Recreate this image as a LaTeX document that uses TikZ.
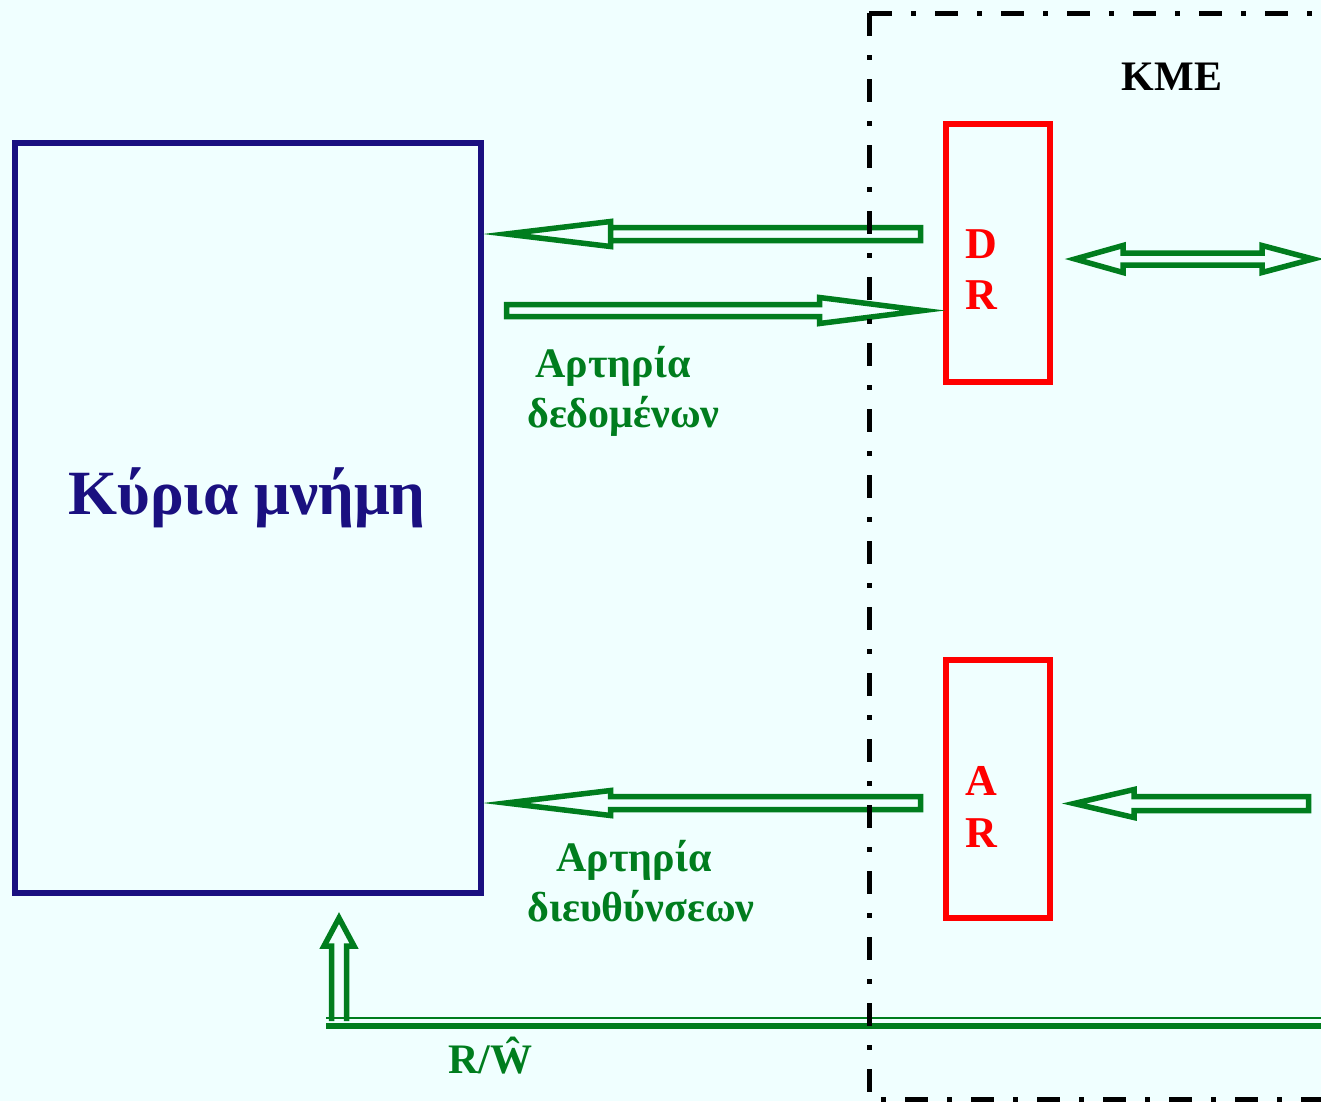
\documentclass[tikz,border=0pt]{standalone}
\usepackage{fontspec}
\setmainfont{Liberation Serif}
\definecolor{bgc}{RGB}{240,255,255}
\definecolor{memblue}{RGB}{26,16,128}
\definecolor{busgreen}{RGB}{0,125,30}
\definecolor{regred}{RGB}{255,0,0}
\begin{document}
\begin{tikzpicture}[x=1pt,y=-1pt,
  blk/.style={draw=busgreen,line width=5.5pt,line join=miter,miter limit=12},
  membox/.style={draw=memblue,line width=6pt},
  regbox/.style={draw=regred,line width=6pt},
  cpubox/.style={draw=black,line width=5pt,dash pattern=on 23pt off 19pt on 5pt off 19pt},
  regtxt/.style={text=regred,font=\fontsize{44}{44}\selectfont\bfseries,anchor=base,inner sep=0pt},
  bustxt/.style={text=busgreen,font=\fontsize{42}{42}\selectfont\bfseries,anchor=base,inner sep=0pt}]
\fill[bgc] (0,0) rectangle (1321,1101);
\useasboundingbox (0,0) rectangle (1321,1101);
\clip (0,0) rectangle (1321,1101);

% main memory
\draw[membox] (15,143) rectangle (481,893);
\node[text=memblue,font=\fontsize{63}{63}\selectfont\bfseries,anchor=base,inner sep=0pt] (mem) at (247,514) {Κύρια μνήμη};

% registers
\draw[regbox] (946,124) rectangle (1050,382);
\draw[regbox] (946,660) rectangle (1050,918);
\node[regtxt] (d1) at (981,258) {D};
\node[regtxt] (r1) at (981,309) {R};
\node[regtxt] (a2) at (981,795) {A};
\node[regtxt] (r2) at (981,847) {R};

% arrows
% DR -> memory (left)
\draw[blk] (506,234) -- (610.5,221.5) -- (610.5,240.5) -- (920.5,240.5) -- (920.5,227.5) -- (610.5,227.5) -- (610.5,246.5) -- cycle;
% memory -> DR (right)
\draw[blk] (923,310.5) -- (819.5,297.5) -- (819.5,304.5) -- (506.5,304.5) -- (506.5,316.5) -- (819.5,316.5) -- (819.5,323.5) -- cycle;
% double arrow
\draw[blk] (1075,259) -- (1123,245.5) -- (1123,253) -- (1262,253) -- (1262,245.5) -- (1313,259) -- (1262,272.5) -- (1262,265) -- (1123,265) -- (1123,272.5) -- cycle;
% AR -> memory
\draw[blk] (506,803) -- (610.5,790.5) -- (610.5,796.5) -- (920.5,796.5) -- (920.5,809.5) -- (610.5,809.5) -- (610.5,815.5) -- cycle;
% into AR
\draw[blk] (1074,803.5) -- (1134,789.5) -- (1134,796.5) -- (1308.5,796.5) -- (1308.5,810.5) -- (1134,810.5) -- (1134,817.5) -- cycle;
% up arrow R/W
\draw[blk] (331.5,1021) -- (331.5,946) -- (324,946) -- (339,918) -- (354,946) -- (346.5,946) -- (346.5,1021);
% control line
\draw[busgreen,line width=2pt] (326,1018) -- (1330,1018);
\draw[busgreen,line width=6pt] (326,1026) -- (1330,1026);

% CPU boundary
\draw[cpubox] (869,13) -- (1340,13);
\draw[cpubox] (869,13) -- (869,1099) -- (1340,1099);
\node[font=\fontsize{42}{42}\selectfont\bfseries,anchor=base,inner sep=0pt] (kme) at (1172,90) {KME};

% labels
\node[bustxt] (l1) at (613,377) {Αρτηρία};
\node[bustxt] (l2) at (623.5,427) {δεδομένων};
\node[bustxt] (l3) at (634,871) {Αρτηρία};
\node[bustxt] (l4) at (641,921) {διευθύνσεων};
\node[bustxt] (rw) at (490,1073) {R/Ŵ};
\end{tikzpicture}
\end{document}
